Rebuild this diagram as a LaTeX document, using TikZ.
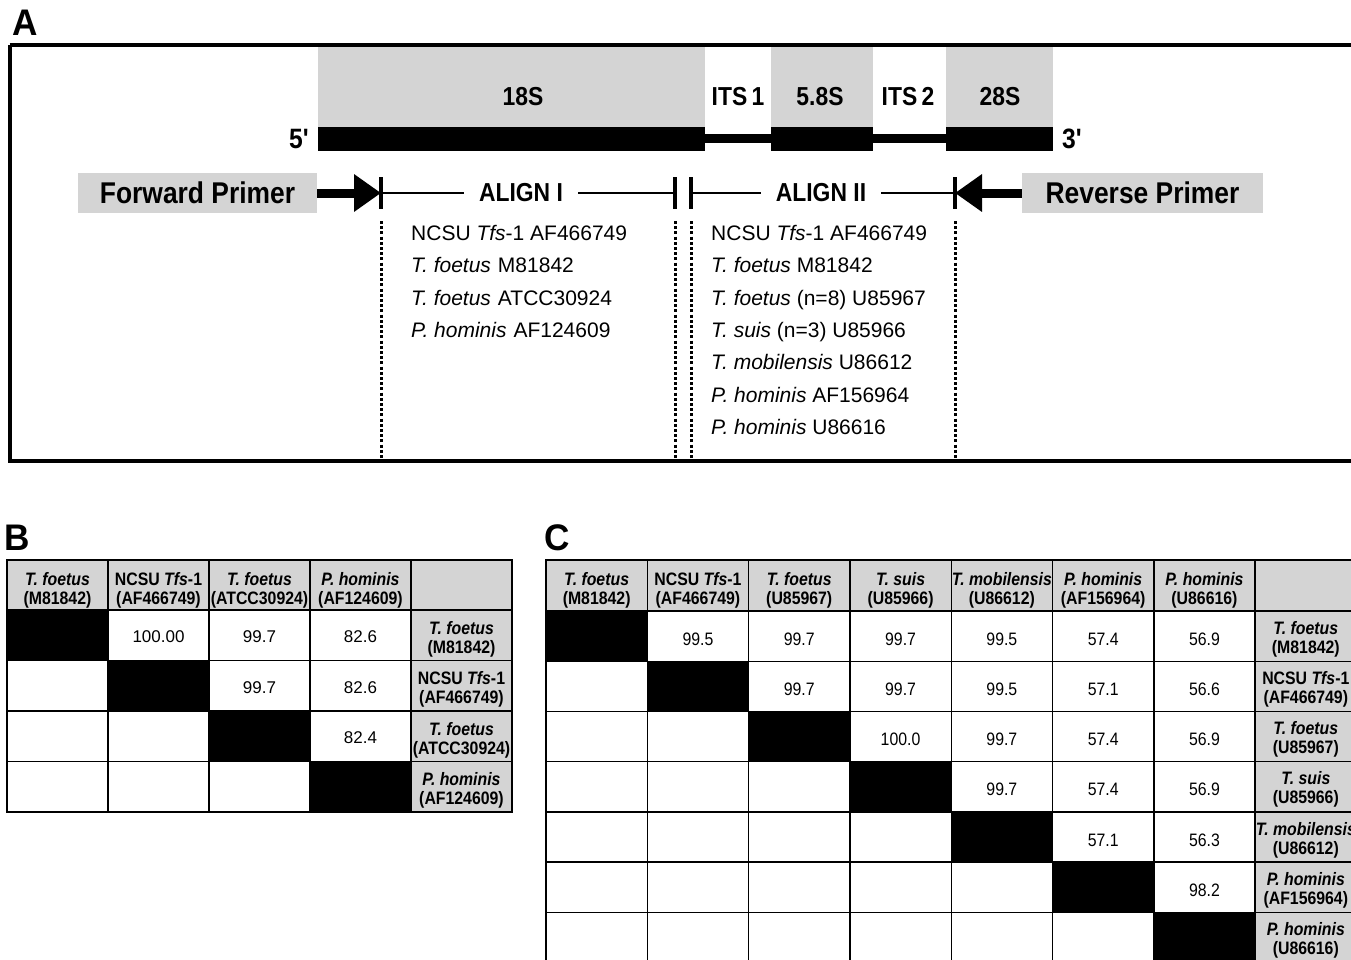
\documentclass[tikz,border=0pt]{standalone}
\usepackage{fontspec}
\setmainfont{Liberation Sans}
\newfontfamily\cond{Liberation Sans}[FakeStretch=0.88]
\newfontfamily\condbig{Liberation Sans}[FakeStretch=0.95]
\usetikzlibrary{arrows.meta}
\definecolor{speck}{gray}{0.83}
\begin{document}
\begin{tikzpicture}[x=1pt,y=-1pt,
  bigletter/.style={font=\condbig\bfseries\fontsize{37}{40}\selectfont, inner sep=0pt},
  reglbl/.style={font=\cond\bfseries\fontsize{26}{28}\selectfont, inner sep=0pt},
  primerbox/.style={fill=speck, minimum height=40pt, inner sep=0pt, font=\cond\bfseries\fontsize{30}{32}\selectfont},
  alignlbl/.style={font=\cond\bfseries\fontsize{26}{28}\selectfont, inner xsep=15pt, inner ysep=0pt},
  listtxt/.style={font=\fontsize{21}{24}\selectfont, anchor=base west, inner sep=0pt},
  hdr/.style={font=\cond\bfseries\fontsize{18}{19}\selectfont, align=center, inner sep=0pt},
  valB/.style={font=\fontsize{17}{19}\selectfont, inner sep=0pt},
  valC/.style={font=\cond\fontsize{18}{19}\selectfont, inner sep=0pt},
  endbar/.style={line width=4.5pt},
  alignline/.style={line width=2pt},
  shaft/.style={line width=9pt, -{Triangle[length=27pt,width=36pt]}},
  dotline/.style={line width=3pt, dash pattern=on 3pt off 2.2pt},
  frame/.style={line width=4pt},
  gridout/.style={line width=2.4pt},
  gridin/.style={line width=1.4pt}]
\useasboundingbox (0,0) rectangle (1351,959);
\clip (0,0) rectangle (1351,959);
\fill[white] (0,0) rectangle (1351,959);

% ---------------- Panel A ----------------
\node[bigletter] (labA) at (25,23) {A};
% gray regions
\fill[speck] (318,46) rectangle (705,128);
\fill[speck] (771,46) rectangle (873,128);
\fill[speck] (946,46) rectangle (1053,128);
% rRNA bar
\fill[black] (318,127) rectangle (705,151);
\fill[black] (705,134) rectangle (771,143);
\fill[black] (771,127) rectangle (873,151);
\fill[black] (873,134) rectangle (946,143);
\fill[black] (946,127) rectangle (1053,151);
\node[reglbl] (s18) at (523,97) {18S};
\node[reglbl] (its1) at (738,97) {ITS\,1};
\node[reglbl] (s58) at (820,97) {5.8S};
\node[reglbl] (its2) at (908,97) {ITS\,2};
\node[reglbl] (s28) at (1000,97) {28S};
\node[reglbl, anchor=east, font=\cond\bfseries\fontsize{28}{30}\selectfont] (p5) at (309,139) {5'};
\node[reglbl, anchor=west, font=\cond\bfseries\fontsize{28}{30}\selectfont] (p3) at (1062,139) {3'};
% frame
\draw[frame] (9.5,45) -- (1360,45);
\draw[frame] (9.5,45) -- (9.5,461) -- (1360,461);

% primers
\node[primerbox, minimum width=239pt] (fp) at (197.5,193) {Forward Primer};
\node[primerbox, minimum width=241pt] (rp) at (1142.5,193) {Reverse Primer};
\coordinate (b1) at (381,193);
\coordinate (b2) at (675,193);
\coordinate (b3) at (691,193);
\coordinate (b4) at (955,193);
\foreach \b in {b1,b2,b3,b4}
  \draw[endbar] ([yshift=16pt]\b) -- ([yshift=-16pt]\b);
\draw[shaft] (fp.east) -- (b1);
\draw[shaft] (rp.west) -- (b4);
\node[alignlbl] (al1) at (521,193) {ALIGN I};
\node[alignlbl] (al2) at (821,193) {ALIGN II};
\draw[alignline] (b1) -- (al1.west);
\draw[alignline] (al1.east) -- (b2);
\draw[alignline] (b3) -- (al2.west);
\draw[alignline] (al2.east) -- (b4);
% dotted drops
\foreach \b in {b1,b2,b3,b4}
  \draw[dotline] ([yshift=-28pt]\b) -- ([yshift=-267pt]\b);

% lists
\node[listtxt] (l1a) at (411,240.5) {NCSU \textit{Tfs}-1 AF466749};
\node[listtxt] (l1b) at (411,272.8) {\textit{T. foetus}\hspace{7pt}M81842};
\node[listtxt] (l1c) at (411,305.1) {\textit{T. foetus}\hspace{7pt}ATCC30924};
\node[listtxt] (l1d) at (411,337.4) {\textit{P. hominis}\hspace{7pt}AF124609};

\node[listtxt] (l2a) at (711,240.5) {NCSU \textit{Tfs}-1 AF466749};
\node[listtxt] (l2b) at (711,272.8) {\textit{T. foetus} M81842};
\node[listtxt] (l2c) at (711,305.1) {\textit{T. foetus} (n=8) U85967};
\node[listtxt] (l2d) at (711,337.4) {\textit{T. suis} (n=3) U85966};
\node[listtxt] (l2e) at (711,369.7) {\textit{T. mobilensis} U86612};
\node[listtxt] (l2f) at (711,402.0) {\textit{P. hominis} AF156964};
\node[listtxt] (l2g) at (711,434.3) {\textit{P. hominis} U86616};

% ---------------- Panel B ----------------
\node[bigletter] (labB) at (17,538) {B};
\fill[speck] (7,560) rectangle (512,610);
\fill[speck] (411,610) rectangle (512,812);
\foreach \i in {1,...,4}
  \fill[black] ({7+(\i-1)*101},{610+(\i-1)*50.5}) rectangle ++(101,50.5);
\foreach \i in {1,...,4}
  \draw[gridin] ({7+\i*101},560) -- ({7+\i*101},812);
\draw[gridin] (7,610) -- (512,610);
\foreach \i in {1,...,3}
  \draw[gridin] (7,{610+\i*50.5}) -- (512,{610+\i*50.5});
\draw[gridout] (7,560) rectangle (512,812);
\foreach \t [count=\i] in {{\textit{T. foetus}\\(M81842)},{NCSU \textit{Tfs}-1\\(AF466749)},{\textit{T. foetus}\\(ATCC30924)},{\textit{P. hominis}\\(AF124609)}}{
  \node[hdr] (bh\i) at ({7+(\i-0.5)*101},590) {\t};
  \node[hdr] (br\i) at (461.5,{610+(\i-0.5)*50.5+4}) {\t};
}
\node[valB] (b12) at (158.5,637) {100.00};
\node[valB] (b13) at (259.5,637) {99.7};
\node[valB] (b14) at (360.5,637) {82.6};
\node[valB] (b23) at (259.5,687.5) {99.7};
\node[valB] (b24) at (360.5,687.5) {82.6};
\node[valB] (b34) at (360.5,738) {82.4};

% ---------------- Panel C ----------------
\node[bigletter] (labC) at (557,538) {C};
\fill[speck] (546,560) rectangle (1360,611);
\fill[speck] (1255.1,611) rectangle (1360,962);
\foreach \i in {1,...,7}
  \fill[black] ({546+(\i-1)*101.3},{611+(\i-1)*50.2}) rectangle ++(101.3,50.2);
\foreach \i in {1,...,8}
  \draw[gridin] ({546+\i*101.3},560) -- ({546+\i*101.3},962);
\draw[gridin] (546,611) -- (1360,611);
\foreach \i in {1,...,7}
  \draw[gridin] (546,{611+\i*50.2}) -- (1360,{611+\i*50.2});
\draw[gridout] (1360,560) -- (546,560) -- (546,962);
\foreach \t [count=\i] in {{\textit{T. foetus}\\(M81842)},{NCSU \textit{Tfs}-1\\(AF466749)},{\textit{T. foetus}\\(U85967)},{\textit{T. suis}\\(U85966)},{\textit{T. mobilensis}\\(U86612)},{\textit{P. hominis}\\(AF156964)},{\textit{P. hominis}\\(U86616)}}{
  \node[hdr] (ch\i) at ({546+(\i-0.5)*101.3},590) {\t};
  \node[hdr] (cr\i) at (1305.8,{611+(\i-0.5)*50.2+3}) {\t};
}
% values: row, col, text
\foreach \r/\c/\v in {1/2/99.5,1/3/99.7,1/4/99.7,1/5/99.5,1/6/57.4,1/7/56.9,
                      2/3/99.7,2/4/99.7,2/5/99.5,2/6/57.1,2/7/56.6,
                      3/4/100.0,3/5/99.7,3/6/57.4,3/7/56.9,
                      4/5/99.7,4/6/57.4,4/7/56.9,
                      5/6/57.1,5/7/56.3,
                      6/7/98.2}
  \node[valC] (c\r-\c) at ({546+(\c-0.5)*101.3},{611+(\r-0.5)*50.2+3}) {\v};
\end{tikzpicture}
\end{document}
